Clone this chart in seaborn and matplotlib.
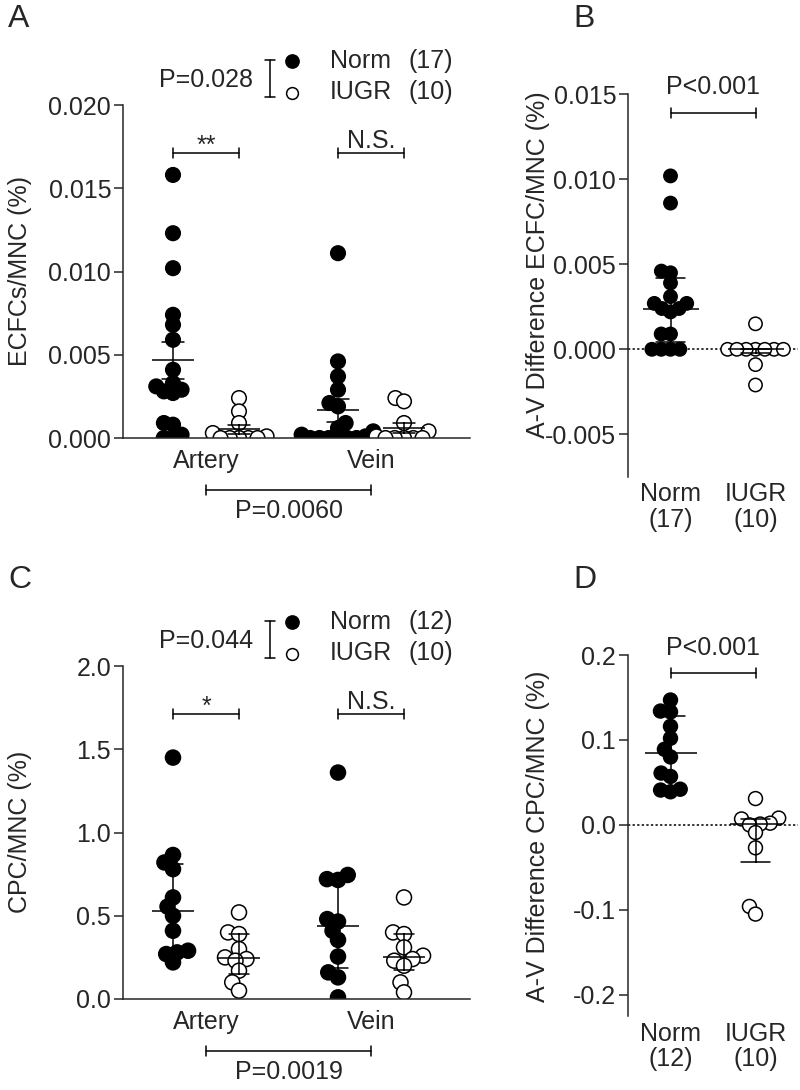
import numpy as np
import pandas as pd
import matplotlib.pyplot as plt
from matplotlib.ticker import FormatStrFormatter
import seaborn as sns
import warnings

warnings.filterwarnings("ignore")

# ---- values ----
vessels = ["Artery", "Vein"]
groups = ["Norm", "IUGR"]

# A: ECFCs/MNC (%)
ecfc_artery_norm = [0.0158, 0.0123, 0.0102, 0.0074, 0.0068, 0.0059, 0.0041, 0.0033, 0.0031,
                    0.0029, 0.0028, 0.0027, 0.0009, 0.0008, 0.0002, 0.0, 0.0]
ecfc_artery_iugr = [0.0024, 0.0016, 0.0009, 0.0003, 0.0001, 0.0, 0.0, 0.0, 0.0, 0.0]
ecfc_vein_norm = [0.0111, 0.0046, 0.0037, 0.0029, 0.0021, 0.0019, 0.0009, 0.0006, 0.0004,
                  0.0002, 0.0001, 0.0, 0.0, 0.0, 0.0, 0.0, 0.0]
ecfc_vein_iugr = [0.0024, 0.0022, 0.0009, 0.0004, 0.0001, 0.0, 0.0, 0.0, 0.0, 0.0]

# B: A-V difference ECFC/MNC (%)
ecfc_diff_norm = [0.0102, 0.0086, 0.0046, 0.0045, 0.0039, 0.0031, 0.0027, 0.0027, 0.0024,
                  0.0024, 0.0022, 0.0009, 0.0009, 0.0, 0.0, 0.0, 0.0]
ecfc_diff_iugr = [0.0015, 0.0, 0.0, 0.0, 0.0, 0.0, 0.0, 0.0, -0.0009, -0.0021]

# C: CPC/MNC (%)
cpc_artery_norm = [1.45, 0.865, 0.82, 0.78, 0.61, 0.555, 0.50, 0.41, 0.29, 0.28, 0.27, 0.22]
cpc_artery_iugr = [0.52, 0.40, 0.39, 0.30, 0.25, 0.24, 0.23, 0.17, 0.10, 0.05]
cpc_vein_norm = [1.36, 0.745, 0.72, 0.715, 0.48, 0.465, 0.41, 0.355, 0.255, 0.16, 0.13, 0.01]
cpc_vein_iugr = [0.61, 0.40, 0.39, 0.31, 0.26, 0.24, 0.23, 0.20, 0.10, 0.04]

# D: A-V difference CPC/MNC (%)
cpc_diff_norm = [0.147, 0.134, 0.133, 0.116, 0.102, 0.089, 0.080, 0.061, 0.057, 0.042, 0.041, 0.039]
cpc_diff_iugr = [0.031, 0.008, 0.007, 0.002, 0.001, 0.0, -0.009, -0.027, -0.096, -0.105]

ecfc_p = ["P=0.028", "**", "N.S.", "P=0.0060", "P<0.001"]
cpc_p = ["P=0.044", "*", "N.S.", "P=0.0019", "P<0.001"]


def long_df(an, ai, vn, vi):
    rows = []
    for vessel, grp, vals in [("Artery", "Norm", an), ("Artery", "IUGR", ai),
                              ("Vein", "Norm", vn), ("Vein", "IUGR", vi)]:
        rows += [{"vessel": vessel, "group": grp, "value": v} for v in vals]
    return pd.DataFrame(rows)


def diff_df(norm, iugr):
    return pd.DataFrame({"group": ["Norm"] * len(norm) + ["IUGR"] * len(iugr),
                         "value": norm + iugr})


def iqr(v):
    return np.percentile(v, 25, method="weibull"), np.percentile(v, 75, method="weibull")


dfA = long_df(ecfc_artery_norm, ecfc_artery_iugr, ecfc_vein_norm, ecfc_vein_iugr)
dfB = diff_df(ecfc_diff_norm, ecfc_diff_iugr)
dfC = long_df(cpc_artery_norm, cpc_artery_iugr, cpc_vein_norm, cpc_vein_iugr)
dfD = diff_df(cpc_diff_norm, cpc_diff_iugr)

sns.set_style("ticks")
plt.rcParams["font.family"] = ["Liberation Sans", "DejaVu Sans"]
plt.rcParams["axes.unicode_minus"] = False
plt.rcParams["axes.linewidth"] = 1.1

FS = 18
fills = {"Norm": "black", "IUGR": "white"}
W, H = 800, 1090

fig = plt.figure(figsize=(8, 10.9), dpi=100)
ov = fig.add_axes([0, 0, 1, 1])
ov.set_xlim(0, W)
ov.set_ylim(H, 0)
ov.axis("off")


def box(l, t, r, b):
    return [l / W, 1 - b / H, (r - l) / W, (b - t) / H]


axA = fig.add_axes(box(123, 105, 470, 438))
axB = fig.add_axes(box(628, 94.3, 798, 476.8))
axC = fig.add_axes(box(123, 666, 470, 999))
axD = fig.add_axes(box(628, 655, 798, 1016))
dot_size = {}


# the swarm is laid out with a smaller dot (pack < 1) so that the real dots overlap
# the way they do in the original figure
def paired_panel(ax, df, estimator, errorbar, size, pack, mean_w, cap):
    dot_size[ax] = size
    sns.swarmplot(data=df, x="vessel", y="value", hue="group", order=vessels,
                  hue_order=groups, dodge=True, palette=fills, edgecolor="black",
                  linewidth=1.1, size=size * pack, legend=False, ax=ax, zorder=2)
    sns.pointplot(data=df, x="vessel", y="value", hue="group", order=vessels,
                  hue_order=groups, estimator=estimator, errorbar=errorbar, dodge=0.4,
                  markers="_", linestyles="none", markersize=mean_w, markeredgewidth=1.1,
                  capsize=cap, err_kws={"linewidth": 1.1}, palette=["black", "black"],
                  legend=False, ax=ax, zorder=3)
    ax.set_xlim(-0.503, 1.6)
    ax.set_xlabel("")
    ax.set_ylabel("")
    ax.tick_params(axis="x", length=0, pad=8, labelsize=FS)
    ax.tick_params(axis="y", length=6.5, width=1.1, pad=2, labelsize=FS)
    sns.despine(ax=ax)


def diff_panel(ax, df, labels, size, pack, med_w, cap):
    dot_size[ax] = size
    ax.axhline(0, color="black", lw=1.1, ls=(0, (1.5, 1.5)), zorder=1)
    sns.swarmplot(data=df, x="group", y="value", hue="group", order=groups,
                  hue_order=groups, palette=fills, edgecolor="black", linewidth=1.1,
                  size=size * pack, legend=False, ax=ax, zorder=2)
    sns.pointplot(data=df, x="group", y="value", order=groups, estimator="median",
                  errorbar=iqr, markers="_", linestyles="none", markersize=med_w,
                  markeredgewidth=1.1, capsize=cap, err_kws={"linewidth": 1.1},
                  color="black", ax=ax, zorder=3)
    ax.set_xlim(-0.5, 1.5)
    ax.set_xticks([0, 1])
    ax.set_xticklabels(labels, linespacing=1.1)
    ax.set_xlabel("")
    ax.set_ylabel("")
    ax.tick_params(axis="x", length=0, pad=4, labelsize=FS)
    ax.tick_params(axis="y", length=6.5, width=1.1, pad=2, labelsize=FS)
    sns.despine(ax=ax, bottom=True)


def bracket(ax, x0, x1, y, dy, text, text_dy):
    ax.plot([x0, x1], [y, y], color="black", lw=1.1, clip_on=False)
    for x in (x0, x1):
        ax.plot([x, x], [y - dy, y + dy], color="black", lw=1.1, clip_on=False)
    ax.text((x0 + x1) / 2, y + text_dy, text, ha="center", va="baseline",
            fontsize=FS, clip_on=False)


# ---- panel A ----
paired_panel(axA, dfA, "mean", "se", 10.5, 0.5, 30, 0.13)
axA.set_ylim(0, 0.020)
axA.set_yticks(np.arange(0, 0.0201, 0.005))
axA.yaxis.set_major_formatter(FormatStrFormatter("%.3f"))
bracket(axA, -0.2, 0.2, 0.0171, 0.0003, ecfc_p[1], 0.00002)
bracket(axA, 0.8, 1.2, 0.0171, 0.0003, ecfc_p[2], 0.0003)

# ---- panel B ----
diff_panel(axB, dfB, ["Norm\n(17)", "IUGR\n(10)"], 9.6, 0.55, 41, 0.33)
axB.set_ylim(-0.0075, 0.015)
axB.set_yticks(np.arange(-0.005, 0.0151, 0.005))
axB.yaxis.set_major_formatter(FormatStrFormatter("%.3f"))
bracket(axB, 0, 1, 0.01392, 0.0003, ecfc_p[4], 0.00107)

# ---- panel C ----
paired_panel(axC, dfC, "median", iqr, 10.8, 0.6, 30, 0.12)
axC.set_ylim(0, 2.0)
axC.set_yticks(np.arange(0, 2.01, 0.5))
axC.yaxis.set_major_formatter(FormatStrFormatter("%.1f"))
bracket(axC, -0.2, 0.2, 1.712, 0.03, cpc_p[1], 0.002)
bracket(axC, 0.8, 1.2, 1.712, 0.03, cpc_p[2], 0.03)

# ---- panel D ----
diff_panel(axD, dfD, ["Norm\n(12)", "IUGR\n(10)"], 10.0, 0.58, 37.5, 0.33)
axD.set_ylim(-0.225, 0.2)
axD.set_yticks(np.arange(-0.2, 0.201, 0.1))
axD.yaxis.set_major_formatter(FormatStrFormatter("%.1f"))
bracket(axD, 0, 1, 0.1785, 0.006, cpc_p[4], 0.0215)

# lay out the swarms once with the packed size, then freeze them and enlarge the dots
fig.canvas.draw()
for ax, size in dot_size.items():
    for coll in ax.collections:
        if "draw" in coll.__dict__:
            del coll.draw
        coll.set_sizes([size ** 2])

# ---- legends, letters, axis titles, bottom P values (pixel overlay) ----
for dy, p, ns in [(0, ecfc_p, (17, 10)), (561, cpc_p, (12, 10))]:
    ov.text(253, 80 + dy, p[0], ha="right", va="center", fontsize=FS)
    ov.plot([270, 270], [60 + dy, 97 + dy], color="black", lw=1.1)
    ov.plot([265, 275], [60 + dy, 60 + dy], color="black", lw=1.1)
    ov.plot([265, 275], [97 + dy, 97 + dy], color="black", lw=1.1)
    ov.plot([292], [61 + dy], "o", ms=9.5, mfc="black", mec="black", mew=1.1)
    ov.plot([292], [93 + dy], "o", ms=8.5, mfc="white", mec="black", mew=1.1)
    ov.text(330, 61 + dy, "Norm", ha="left", va="center", fontsize=FS)
    ov.text(408, 61 + dy, f"({ns[0]})", ha="left", va="center", fontsize=FS)
    ov.text(330, 92 + dy, "IUGR", ha="left", va="center", fontsize=FS)
    ov.text(408, 92 + dy, f"({ns[1]})", ha="left", va="center", fontsize=FS)
    # artery vs vein bracket under the axis
    ov.plot([206, 371], [490 + dy, 490 + dy], color="black", lw=1.1)
    ov.plot([206, 206], [485 + dy, 495 + dy], color="black", lw=1.1)
    ov.plot([371, 371], [485 + dy, 495 + dy], color="black", lw=1.1)
    ov.text(289, 511 + dy, p[3], ha="center", va="center", fontsize=FS)

for letter, x, y in [("A", 8, 19), ("B", 573, 19), ("C", 8, 580), ("D", 573, 580)]:
    ov.text(x, y, letter, ha="left", va="center", fontsize=23)

ov.text(20, 271, "ECFCs/MNC (%)", rotation=90, ha="center", va="center", fontsize=FS)
ov.text(538, 265, "A-V Difference ECFC/MNC (%)", rotation=90, ha="center", va="center", fontsize=FS)
ov.text(20, 832, "CPC/MNC (%)", rotation=90, ha="center", va="center", fontsize=FS)
ov.text(538, 836, "A-V Difference CPC/MNC (%)", rotation=90, ha="center", va="center", fontsize=FS)

fig.savefig("out.png", dpi=100)
